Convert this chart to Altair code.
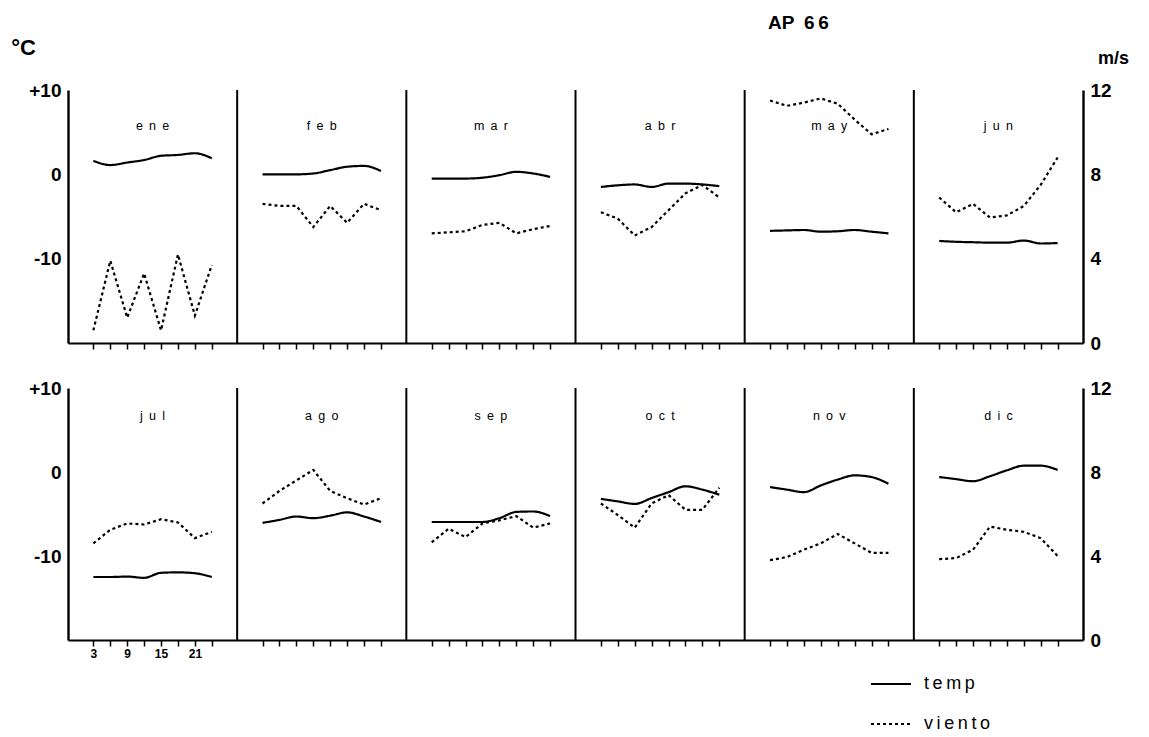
import altair as alt
import pandas as pd

# ---------------- data ----------------
months = ["ene", "feb", "mar", "abr", "may", "jun",
          "jul", "ago", "sep", "oct", "nov", "dic"]
hours = [3, 6, 9, 12, 15, 18, 21, 24]
hour_labels = ["3", "9", "15", "21"]
temp_ticks = [-10, 0, 10]
wind_ticks = [0, 4, 8, 12]
station = ["AP 66"]

temp_ene = [1.6, 1.1, 1.4, 1.7, 2.2, 2.3, 2.5, 1.9]
wind_ene = [0.6, 3.9, 1.2, 3.3, 0.6, 4.2, 1.3, 3.7]
temp_feb = [0.0, 0.0, 0.0, 0.1, 0.5, 0.9, 1.0, 0.4]
wind_feb = [6.6, 6.5, 6.5, 5.5, 6.5, 5.7, 6.6, 6.3]
temp_mar = [-0.5, -0.5, -0.5, -0.4, -0.1, 0.3, 0.1, -0.3]
wind_mar = [5.2, 5.25, 5.3, 5.6, 5.7, 5.2, 5.4, 5.55]
temp_abr = [-1.5, -1.3, -1.2, -1.5, -1.1, -1.1, -1.2, -1.4]
wind_abr = [6.2, 5.9, 5.1, 5.5, 6.3, 7.1, 7.5, 6.9]
temp_may = [-6.7, -6.65, -6.6, -6.8, -6.75, -6.6, -6.8, -7.0]
wind_may = [11.5, 11.25, 11.4, 11.6, 11.35, 10.6, 9.9, 10.15]
temp_jun = [-7.9, -8.0, -8.05, -8.1, -8.1, -7.85, -8.2, -8.15]
wind_jun = [6.9, 6.2, 6.6, 5.95, 6.05, 6.5, 7.5, 8.8]
temp_jul = [-12.5, -12.5, -12.45, -12.6, -12.0, -11.95, -12.05, -12.5]
wind_jul = [4.6, 5.25, 5.55, 5.5, 5.75, 5.6, 4.85, 5.15]
temp_ago = [-6.05, -5.7, -5.3, -5.5, -5.2, -4.8, -5.3, -5.95]
wind_ago = [6.5, 7.1, 7.6, 8.1, 7.1, 6.75, 6.45, 6.75]
temp_sep = [-5.95, -5.95, -5.95, -5.95, -5.5, -4.75, -4.7, -5.25]
wind_sep = [4.65, 5.3, 4.9, 5.55, 5.7, 5.9, 5.35, 5.55]
temp_oct = [-3.2, -3.5, -3.8, -3.1, -2.4, -1.7, -2.1, -2.7]
wind_oct = [6.5, 5.95, 5.35, 6.5, 6.9, 6.2, 6.2, 7.25]
temp_nov = [-1.8, -2.1, -2.4, -1.6, -0.9, -0.4, -0.6, -1.4]
wind_nov = [3.8, 3.95, 4.3, 4.6, 5.05, 4.6, 4.15, 4.15]
temp_dic = [-0.6, -0.85, -1.1, -0.5, 0.2, 0.75, 0.75, 0.25]
wind_dic = [3.85, 3.9, 4.3, 5.4, 5.25, 5.15, 4.85, 4.0]

temp_by_month = [temp_ene, temp_feb, temp_mar, temp_abr, temp_may, temp_jun,
                 temp_jul, temp_ago, temp_sep, temp_oct, temp_nov, temp_dic]
wind_by_month = [wind_ene, wind_feb, wind_mar, wind_abr, wind_may, wind_jun,
                 wind_jul, wind_ago, wind_sep, wind_oct, wind_nov, wind_dic]

# ---------------- tables ----------------
PANEL = 30      # x units per monthly panel
SHIFT = 1.5     # hours of margin before first obs in each panel
PER_ROW = 6

recs = []
for i, m in enumerate(months):
    r, p = divmod(i, PER_ROW)
    for h, t, w in zip(hours, temp_by_month[i], wind_by_month[i]):
        xv = p * PANEL + SHIFT + h
        recs.append({"month": m, "row": r, "x": xv, "series": "temp", "value": t})
        recs.append({"month": m, "row": r, "x": xv, "series": "viento", "value": w})
df = pd.DataFrame(recs)

lab_df = pd.DataFrame({
    "label": ["\u2002".join(m) for m in months],
    "row": [i // PER_ROW for i in range(len(months))],
    "xmid": [(i % PER_ROW) * PANEL + PANEL / 2 for i in range(len(months))],
})
bound_df = pd.DataFrame({"b": [k * PANEL for k in range(1, PER_ROW)]})
title_df = pd.DataFrame({"t": [s.replace(" ", "\u2002").replace("66", "6\u20096")
                               for s in station]})
xticks = [p * PANEL + SHIFT + h for p in range(PER_ROW) for h in hours]

# ---------------- layout constants ----------------
W = 1015
ROW_RANGES = [[253, 0], [550, 298]]
H = 550
FONT = "Liberation Sans"

xscale = alt.Scale(domain=[0, PANEL * PER_ROW], nice=False, zero=False)

dash = alt.StrokeDash(
    "series:N",
    scale=alt.Scale(domain=["temp", "viento"], range=[[1, 0], [3, 3]]),
    legend=alt.Legend(
        title=None, orient="none", legendX=802, legendY=573,
        symbolType="stroke", symbolSize=1600, symbolStrokeWidth=2,
        symbolStrokeColor="black", labelFont=FONT, labelFontSize=18,
        labelColor="black", labelOffset=12, rowPadding=10, padding=0,
        labelExpr="join(split(datum.label, ''), '\u2009')",
    ),
)

label_expr_x = ("datum.value < %d && indexof(%s, toString(datum.value - %s)) >= 0"
                " ? toString(datum.value - %s) : ''"
                % (PANEL, str(hour_labels), SHIFT, SHIFT))


def x_axis_for(r):
    common = dict(orient="bottom", values=xticks, grid=False, title=None,
                  domainColor="black", domainWidth=2, tickColor="black",
                  tickWidth=1.5, tickSize=6)
    if r == 0:
        return alt.Axis(offset=-(H - ROW_RANGES[0][0]), labels=False, **common)
    return alt.Axis(labelExpr=label_expr_x, labelFont=FONT, labelFontSize=12,
                    labelFontWeight="bold", labelColor="black", labelPadding=2,
                    labelFlush=False, labelOverlap=False, **common)


def temp_layer(r):
    ax = dict(orient="left", values=temp_ticks, grid=False, ticks=False,
              domainColor="black", domainWidth=2.4,
              labelExpr="datum.value > 0 ? '+' + datum.value : '' + datum.value",
              labelFont=FONT, labelFontSize=19, labelFontWeight="bold",
              labelColor="black", labelPadding=7)
    if r == 0:
        ax.update(title="°C", titleAngle=0, titleX=-45, titleY=-43,
                  titleAlign="center", titleBaseline="middle", titleFont=FONT,
                  titleFontSize=22, titleFontWeight="bold", titleColor="black")
    else:
        ax.update(title=None)
    return alt.Chart(df).transform_filter(
        (alt.datum.row == r) & (alt.datum.series == "temp")
    ).mark_line(color="black", strokeWidth=2.2, interpolate="monotone").encode(
        x=alt.X("x:Q", scale=xscale, axis=x_axis_for(r)),
        y=alt.Y("value:Q", scale=alt.Scale(domain=[-20, 10], range=ROW_RANGES[r],
                                           nice=False, zero=False),
                axis=alt.Axis(**ax)),
        detail="month:N",
        strokeDash=dash,
    )


def wind_layer(r):
    ax = dict(orient="right", values=wind_ticks, grid=False, ticks=False,
              domainColor="black", domainWidth=2.4,
              labelFont=FONT, labelFontSize=19, labelFontWeight="bold",
              labelColor="black", labelPadding=7)
    if r == 0:
        ax.update(title="m/s", titleAngle=0, titleX=30, titleY=-32,
                  titleAlign="center", titleBaseline="middle", titleFont=FONT,
                  titleFontSize=18, titleFontWeight="bold", titleColor="black")
    else:
        ax.update(title=None)
    return alt.Chart(df).transform_filter(
        (alt.datum.row == r) & (alt.datum.series == "viento")
    ).mark_line(color="black", strokeWidth=2.2).encode(
        x=alt.X("x:Q", scale=xscale, axis=None),
        y=alt.Y("value:Q", scale=alt.Scale(domain=[0, 12], range=ROW_RANGES[r],
                                           nice=False, zero=False),
                axis=alt.Axis(**ax)),
        detail="month:N",
        strokeDash=dash,
    )


def sep_layer(r):
    return alt.Chart(bound_df).mark_rule(color="black", strokeWidth=2).encode(
        x=alt.X("b:Q", scale=xscale, axis=None),
        y=alt.value(ROW_RANGES[r][1]),
        y2=alt.value(ROW_RANGES[r][0]),
    )


def month_layer(r, ypix):
    return alt.Chart(lab_df).transform_filter(alt.datum.row == r).mark_text(
        font=FONT, fontSize=12.5, color="black", align="center", baseline="middle"
    ).encode(
        x=alt.X("xmid:Q", scale=xscale, axis=None),
        y=alt.value(ypix),
        text="label:N",
    )


title_layer = alt.Chart(title_df).mark_text(
    font=FONT, fontSize=19, fontWeight="bold", color="black",
    align="left", baseline="middle"
).encode(x=alt.value(700), y=alt.value(-67), text="t:N")


chart = alt.layer(
    temp_layer(0), wind_layer(0), temp_layer(1), wind_layer(1),
    sep_layer(0), sep_layer(1),
    month_layer(0, 36), month_layer(1, 326), title_layer,
).resolve_scale(
    x="independent", y="independent"
).properties(
    width=W, height=H,
    autosize=alt.AutoSizeParams(type="none"),
    padding={"left": 68, "top": 90, "right": 66, "bottom": 97},
    background="white",
).configure_view(stroke=None)

chart.save("out.html", embed_options={"renderer": "svg", "actions": False})
